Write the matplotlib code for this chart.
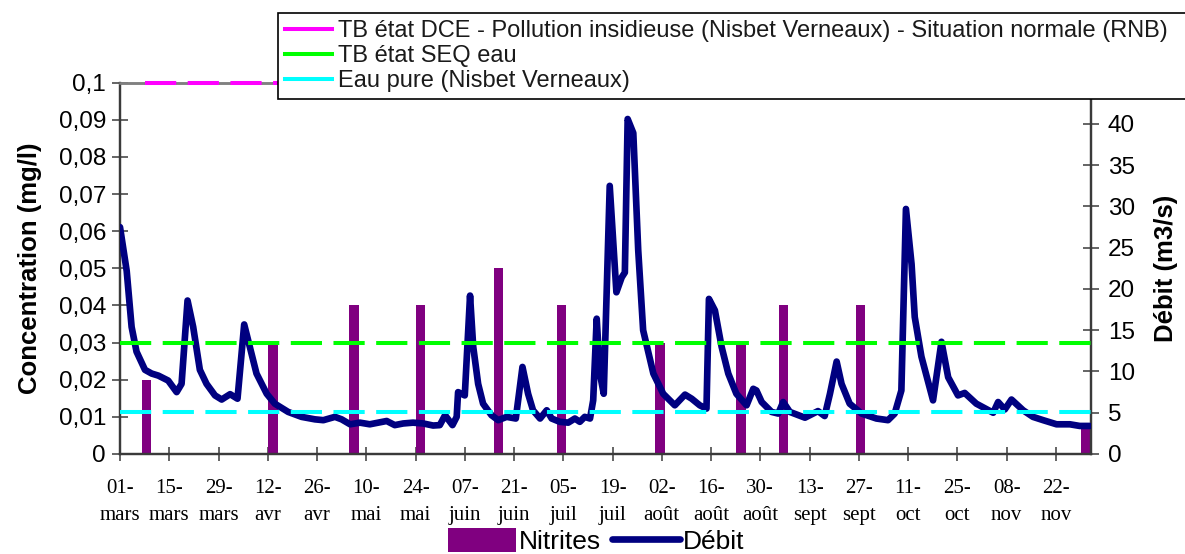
import matplotlib
matplotlib.use("Agg")
import matplotlib.pyplot as plt
from matplotlib.lines import Line2D

# --- data -----------------------------------------------------------------
# x axis: days counted from 1 March
tick_days = list(range(0, 267, 14))
tick_labels_x = ["01-\nmars", "15-\nmars", "29-\nmars", "12-\navr", "26-\navr",
                 "10-\nmai", "24-\nmai", "07-\njuin", "21-\njuin", "05-\njuil",
                 "19-\njuil", "02-\naoût", "16-\naoût", "30-\naoût", "13-\nsept",
                 "27-\nsept", "11-\noct", "25-\noct", "08-\nnov", "22-\nnov"]

# nitrite samples (mg/l)
nitrites_days = [7, 43, 66, 85, 107, 125, 153, 176, 188, 210, 274]
nitrites_mgl = [0.02, 0.03, 0.04, 0.04, 0.05, 0.04, 0.03, 0.03, 0.04, 0.04, 0.008]

# river flow (m3/s)
debit_days = [0.0, 1.9, 3.3, 4.7, 7.1, 9.0, 10.9, 13.7, 16.1, 17.5, 19.2, 20.8,
              22.7, 24.6, 27.0, 28.9, 31.3, 33.4, 35.3, 36.9, 38.8, 41.7, 44.0,
              47.8, 51.6, 55.4, 57.8, 61.1, 63.0, 65.4, 68.2, 71.0, 73.4, 75.8,
              78.1, 80.5, 83.3, 86.2, 89.0, 90.9, 92.4, 94.5, 95.7, 96.1, 98.0,
              99.5, 100.4, 101.8, 103.2, 105.6, 107.5, 109.9, 112.5, 114.4, 116.0,
              117.4, 119.4, 121.3, 122.7, 125.0, 127.4, 129.3, 130.7, 132.1, 133.6,
              134.5, 135.5, 136.4, 137.5, 139.2, 141.1, 142.6, 143.5, 144.3, 145.9,
              147.3, 148.7, 151.6, 154.4, 157.7, 160.6, 162.5, 164.8, 166.7, 167.4,
              169.1, 171.0, 172.9, 175.2, 178.1, 180.0, 180.9, 182.4, 185.2, 187.1,
              188.5, 190.4, 194.7, 198.4, 200.3, 201.8, 203.7, 205.1, 207.4, 210.8,
              215.0, 218.3, 220.2, 222.1, 223.4, 225.0, 225.9, 227.8, 231.1, 233.5,
              235.4, 238.2, 240.1, 243.4, 248.2, 249.6, 251.5, 253.4, 256.7, 259.5,
              262.4, 266.2, 270.0, 272.8, 275.6]
debit_m3s = [27.5, 22.2, 15.4, 12.4, 10.2, 9.75, 9.5, 8.9, 7.5, 8.5, 18.6, 15.4,
             10.2, 8.5, 7.1, 6.6, 7.25, 6.7, 15.7, 13.0, 9.75, 7.3, 6.1,
             5.1, 4.5, 4.2, 4.1, 4.5, 4.2, 3.6, 3.8, 3.6, 3.8, 4.0,
             3.5, 3.7, 3.8, 3.7, 3.45, 3.5, 4.7, 3.5, 4.5, 7.5, 7.1,
             19.2, 13.0, 8.5, 6.1, 4.7, 4.1, 4.5, 4.3, 10.55, 7.3,
             5.3, 4.3, 5.3, 4.3, 3.9, 3.8, 4.3, 3.9, 4.5, 4.3,
             6.5, 16.4, 9.75, 7.3, 32.5, 19.6, 21.4, 22.0, 40.6, 38.9,
             24.7, 15.0, 9.75, 7.3, 5.9, 7.2, 6.7, 5.9, 5.5, 18.8,
             17.4, 13.0, 9.75, 7.3, 5.9, 7.9, 7.7, 6.3, 5.1, 4.9,
             6.3, 5.1, 4.4, 5.2, 4.6, 7.3, 11.2, 8.5, 6.1, 4.9,
             4.3, 4.1, 4.9, 7.7, 29.7, 23.0, 16.6, 11.8, 6.5, 13.6,
             9.3, 7.1, 7.4, 6.1, 5.0, 6.3, 5.4, 6.6, 5.3, 4.5,
             4.1, 3.6, 3.6, 3.4, 3.4]

# reference thresholds (mg/l)
threshold_labels = ["TB état DCE - Pollution insidieuse (Nisbet Verneaux) - Situation normale (RNB)",
                    "TB état SEQ eau",
                    "Eau pure (Nisbet Verneaux)"]
threshold_values = [0.1, 0.03, 0.0113]
threshold_colors = ["#FF00FF", "#00FF00", "#00FFFF"]

left_ticks = [0, 0.01, 0.02, 0.03, 0.04, 0.05, 0.06, 0.07, 0.08, 0.09, 0.1]
left_tick_labels = ["0", "0,01", "0,02", "0,03", "0,04", "0,05", "0,06",
                    "0,07", "0,08", "0,09", "0,1"]
right_ticks = [0, 5, 10, 15, 20, 25, 30, 35, 40]

# --- figure ---------------------------------------------------------------
W, H = 1185, 554
fig = plt.figure(figsize=(W / 100, H / 100), dpi=100)
ax = fig.add_axes([120 / W, 1 - 454 / H, (1091 - 120) / W, (454 - 82.7) / H])
ax2 = ax.twinx()

sans = "Liberation Sans"
serif = "Liberation Serif"
navy = "#000080"
purple = "#800080"
spine_c = "#3a3a3a"

bars = ax.bar([d + 0.5 for d in nitrites_days], nitrites_mgl, width=2.6,
              color=purple, label="Nitrites", zorder=2)

line, = ax2.plot(debit_days, debit_m3s, color=navy, lw=4.8,
                 solid_joinstyle="round", solid_capstyle="round",
                 label="Débit", zorder=3)

# thresholds drawn on top of everything, in concentration units
thr_starts = [0.026, 0.0, 0.0]
for val, col, x0 in zip(threshold_values, threshold_colors, thr_starts):
    ln = Line2D([x0, 1.005], [val, val], color=col, lw=2.9,
                linestyle=(0, (7.75, 2.85)), dash_capstyle="butt",
                transform=ax.get_yaxis_transform(), clip_on=False, zorder=5)
    ax2.add_line(ln)

ax.set_xlim(0, 276)
ax.set_ylim(0, 0.1)
ax2.set_ylim(0, 45)

ax.set_xticks(tick_days)
ax.set_xticklabels(tick_labels_x, fontfamily=serif, fontsize=15, linespacing=1.55)
ax.set_yticks(left_ticks)
ax.set_yticklabels(left_tick_labels, fontfamily=sans, fontsize=17.5)
ax2.set_yticks(right_ticks)
ax2.set_yticklabels([str(v) for v in right_ticks], fontfamily=sans, fontsize=17.5)

ax.tick_params(axis="y", direction="inout", length=12, width=1.1, color=spine_c, pad=4)
ax.tick_params(axis="x", direction="inout", length=10, width=1.1, color=spine_c, pad=13)
ax2.tick_params(axis="y", direction="inout", length=12, width=1.1, color=spine_c, pad=6)

for a in (ax, ax2):
    for s in ("left", "right", "bottom"):
        a.spines[s].set_color(spine_c)
        a.spines[s].set_linewidth(1.6)
    a.spines["top"].set_color("#808080")
    a.spines["top"].set_linewidth(1.8)

ax.set_ylabel("Concentration (mg/l)", fontfamily=sans, fontsize=18.5,
              fontweight="bold", labelpad=12)
ax2.set_ylabel("Débit (m3/s)", fontfamily=sans, fontsize=18.5,
               fontweight="bold", labelpad=14)

# threshold legend in the top band
thr_handles = [Line2D([], [], color=c, lw=2.9) for c in threshold_colors]
leg = fig.legend(thr_handles, threshold_labels, loc="upper left",
                 bbox_to_anchor=(278 / W, 1 - 13 / H - 0.01, 0.9, 0.01), mode="expand",
                 prop={"family": sans, "size": 17}, frameon=True, fancybox=False,
                 edgecolor="black", framealpha=1, borderpad=0.3, labelspacing=0.13,
                 handlelength=2.0, handletextpad=0.25, borderaxespad=0)
leg.get_frame().set_linewidth(1.2)
for t in leg.get_texts():
    t.set_color("#1a1a1a")

# series legend at the bottom
fig.legend([bars, line], ["Nitrites", "Débit"], loc="center",
           bbox_to_anchor=(596 / W, 13 / H), ncol=2, frameon=False,
           prop={"family": sans, "size": 19}, handlelength=2.6, handleheight=1.0,
           handletextpad=0.1, columnspacing=0.4, borderaxespad=0)

fig.savefig("out.png", dpi=100)
